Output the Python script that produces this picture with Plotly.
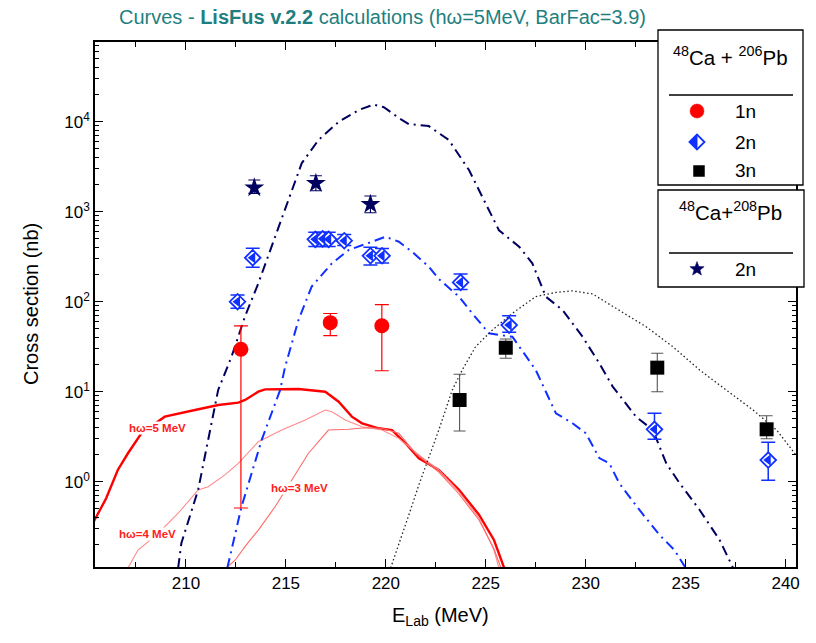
import plotly.graph_objects as go
import math

# ---------------- data ----------------
# 48Ca + 206Pb, 1n
n1_x = [212.75, 217.22, 219.80]
n1_y = [29.6, 58.5, 54.0]
n1_hi = [54.0, 74.0, 92.6]
n1_lo = [0.51, 41.9, 17.1]

# 48Ca + 206Pb, 2n
n2_x = [212.58, 213.34, 216.47, 216.84, 217.14, 217.92, 219.23, 219.81, 223.74, 226.17, 233.44, 239.13]
n2_y = [100, 308, 493, 500, 493, 476, 324, 324, 164, 55, 3.82, 1.74]
n2_hi = [119, 392, 590, 590, 590, 560, 402, 390, 203, 70, 5.75, 2.74]
n2_lo = [84.5, 241, 410, 410, 410, 420, 256, 270, 137, 45.7, 2.96, 1.04]

# 48Ca + 206Pb, 3n
n3_x = [223.69, 226.00, 233.58, 239.05]
n3_y = [8.09, 30.8, 18.5, 3.82]
n3_hi = [15.6, 38.5, 26.7, 5.41]
n3_lo = [3.66, 23.5, 10.0, 3.0]

# 48Ca + 208Pb, 2n
st_x = [213.42, 216.50, 219.23]
st_y = [1848, 2069, 1209]
st_hi = [2250, 2512, 1494]
st_lo = [1600, 1711, 975]

# LisFus 1n curves
c5_x = [205.34, 206.01, 206.59, 207.10, 207.77, 208.94, 210.45, 211.62, 212.62, 212.96, 213.62, 213.96,
        215.63, 216.97, 217.64, 218.30, 218.81, 219.64, 220.31, 220.98, 221.65, 222.65, 223.66, 224.66,
        225.41, 225.92]
c5_y = [0.345, 0.654, 1.35, 2.07, 3.45, 5.28, 6.26, 7.11, 7.55, 8.09, 10.0, 10.6,
        10.7, 10.0, 7.74, 5.28, 4.45, 3.92, 3.75, 2.67, 1.82, 1.35, 0.81, 0.43,
        0.225, 0.11]
c4_x = [207.10, 207.60, 208.61, 209.61, 210.61, 211.11, 211.95, 212.62, 213.62, 214.79, 215.97, 216.97,
        217.30, 217.97, 218.81, 219.81, 220.65, 221.65, 222.65, 223.66, 224.66, 225.41, 225.66]
c4_y = [0.11, 0.174, 0.267, 0.446, 0.81, 0.88, 1.19, 1.60, 2.78, 3.75, 4.85, 6.26,
        6.0, 4.85, 4.08, 3.75, 3.03, 1.98, 1.35, 0.77, 0.395, 0.174, 0.11]
c3_x = [212.02, 212.47, 212.95, 213.62, 214.46, 215.29, 216.13, 217.13, 218.14, 218.98, 219.81, 220.65,
        221.49, 222.65, 223.66, 224.66, 225.41, 225.76]
c3_y = [0.11, 0.135, 0.19, 0.29, 0.527, 1.04, 2.07, 3.75, 3.82, 3.98, 3.92, 3.45,
        2.07, 1.28, 0.73, 0.375, 0.18, 0.11]

# LisFus 2n curve, 48Ca + 208Pb
cn_x = [209.61, 209.77, 210.61, 211.28, 211.61, 212.28, 212.95, 213.62, 214.46, 215.13, 215.79, 216.63,
        217.63, 218.64, 219.40, 219.90, 220.65, 221.15, 222.15, 223.15, 224.16, 224.91, 225.66, 226.67,
        227.33, 228.00, 228.84, 229.84, 230.68, 231.35, 232.52, 233.36, 234.03, 234.70, 235.70, 236.70,
        237.37]
cn_y = [0.11, 0.207, 0.81, 4.46, 10.4, 24.5, 68.1, 160, 527, 1349, 3451, 6266,
        9930, 13490, 15500, 14500, 11000, 9400, 8950, 6270, 2904, 1343, 622, 408,
        267, 114, 80.9, 40.8, 20.7, 11.4, 5.27, 3.75, 1.60, 0.96, 0.485, 0.225,
        0.11]

# LisFus 2n curve, 48Ca + 206Pb
cb_x = [212.07, 212.28, 212.78, 213.79, 214.71, 214.96, 215.63, 216.29, 217.30, 218.14, 218.80, 219.31,
        219.98, 220.65, 221.31, 222.15, 222.65, 223.66, 224.32, 225.16, 226.33, 227.50, 228.51, 229.34,
        230.01, 230.68, 231.18, 231.68, 232.69, 233.69, 234.44, 235.00]
cb_y = [0.11, 0.174, 0.527, 2.91, 10.4, 18.9, 62.6, 147, 267, 375, 427, 464,
        527, 464, 359, 245, 179, 114, 74.3, 44.5, 40.8, 17.4, 5.75, 4.46,
        3.45, 1.83, 1.60, 0.96, 0.485, 0.256, 0.174, 0.11]

# LisFus 3n curve, 48Ca + 206Pb
ck_x = [220.24, 220.65, 221.15, 221.65, 222.15, 222.65, 223.32, 223.82, 224.49, 225.33, 226.33, 227.50,
        228.51, 229.34, 230.34, 231.68, 233.02, 234.36, 235.70, 237.04, 238.37, 239.55, 240.52]
ck_y = [0.11, 0.198, 0.426, 0.919, 1.88, 3.75, 10.4, 17.4, 31.6, 48.5, 74.3, 114,
        127, 132, 122, 80.9, 52.7, 31.6, 17.4, 10.4, 6.26, 3.75, 1.98]

y_tickvals = [1, 10, 100, 1000, 10000]
y_ticktext = ["10<sup>0</sup>", "10<sup>1</sup>", "10<sup>2</sup>", "10<sup>3</sup>", "10<sup>4</sup>"]
x_tickvals = [210, 215, 220, 225, 230, 235, 240]

# ---------------- styles / layout ----------------
FONT = "Liberation Sans, Arial, sans-serif"
RED = "#ff0000"
BLUE = "#1030ff"
NAVY = "#000060"
W, H = 816, 643
PL, PR, PT, PB = 95, 796, 42, 567


def fx(px):
    return (px - PL) / (PR - PL)


def fy(py):
    return (PB - py) / (PB - PT)


def plus(hi, v):
    return [a - b for a, b in zip(hi, v)]


def minus(lo, v):
    return [b - a for a, b in zip(lo, v)]


fig = go.Figure()

dashdot = "10px,5px,2px,5px"
fig.add_trace(go.Scatter(x=c5_x, y=c5_y, mode="lines", line=dict(color=RED, width=2.4), hoverinfo="skip"))
fig.add_trace(go.Scatter(x=c4_x, y=c4_y, mode="lines", line=dict(color="#ff8a8a", width=1.1), hoverinfo="skip"))
fig.add_trace(go.Scatter(x=c3_x, y=c3_y, mode="lines", line=dict(color="#ff6a6a", width=1.1), hoverinfo="skip"))
fig.add_trace(go.Scatter(x=cn_x, y=cn_y, mode="lines", line=dict(color=NAVY, width=2, dash=dashdot), hoverinfo="skip"))
fig.add_trace(go.Scatter(x=cb_x, y=cb_y, mode="lines", line=dict(color=BLUE, width=2, dash=dashdot), hoverinfo="skip"))
fig.add_trace(go.Scatter(x=ck_x, y=ck_y, mode="lines", line=dict(color="#222222", width=1.3, dash="1.5px,2.5px"), hoverinfo="skip"))

# points
fig.add_trace(go.Scatter(
    x=n1_x, y=n1_y, mode="markers",
    marker=dict(symbol="circle", size=15, color=RED),
    error_y=dict(type="data", array=plus(n1_hi, n1_y), arrayminus=minus(n1_lo, n1_y),
                 color=RED, thickness=1.2, width=7)))
fig.add_trace(go.Scatter(
    x=n2_x, y=n2_y, mode="markers",
    marker=dict(symbol="diamond", size=12, color="white", line=dict(color=BLUE, width=1.8)),
    error_y=dict(type="data", array=plus(n2_hi, n2_y), arrayminus=minus(n2_lo, n2_y),
                 color=BLUE, thickness=1.5, width=7)))
fig.add_trace(go.Scatter(
    x=n2_x, y=n2_y, mode="markers",
    marker=dict(symbol="triangle-left", size=10, color=BLUE, line=dict(width=0))))
fig.add_trace(go.Scatter(
    x=n3_x, y=n3_y, mode="markers",
    marker=dict(symbol="square", size=14, color="black"),
    error_y=dict(type="data", array=plus(n3_hi, n3_y), arrayminus=minus(n3_lo, n3_y),
                 color="#555555", thickness=1.1, width=6)))
fig.add_trace(go.Scatter(
    x=st_x, y=st_y, mode="markers",
    marker=dict(symbol="star", size=15, color=NAVY),
    error_y=dict(type="data", array=plus(st_hi, st_y), arrayminus=minus(st_lo, st_y),
                 color=NAVY, thickness=1.1, width=6)))

# ---------------- legend boxes (shapes) ----------------
shapes = []
box_line = dict(color="black", width=1.3)
shapes.append(dict(type="rect", xref="paper", yref="paper", x0=fx(658), x1=fx(803), y0=fy(185), y1=fy(30),
                   line=box_line, fillcolor="white", layer="above"))
shapes.append(dict(type="rect", xref="paper", yref="paper", x0=fx(658), x1=fx(804), y0=fy(287), y1=fy(190),
                   line=box_line, fillcolor="white", layer="above"))
for ly in (95, 253):
    shapes.append(dict(type="line", xref="paper", yref="paper", x0=fx(669), x1=fx(793), y0=fy(ly), y1=fy(ly),
                       line=dict(color="black", width=1.3), layer="above"))


def ppath(points):
    s = "M " + " L ".join(f"{fx(a):.5f},{fy(b):.5f}" for a, b in points) + " Z"
    return s


# circle
cx, cy, r = 697, 111, 7
shapes.append(dict(type="circle", xref="paper", yref="paper", x0=fx(cx - r), x1=fx(cx + r), y0=fy(cy + r),
                   y1=fy(cy - r), fillcolor=RED, line=dict(color=RED, width=0.5), layer="above"))
# half-filled diamond
cx, cy, r = 697, 142, 7.5
shapes.append(dict(type="path", xref="paper", yref="paper",
                   path=ppath([(cx - r, cy), (cx, cy - r), (cx, cy + r)]),
                   fillcolor=BLUE, line=dict(color=BLUE, width=1), layer="above"))
shapes.append(dict(type="path", xref="paper", yref="paper",
                   path=ppath([(cx - r, cy), (cx, cy - r), (cx + r, cy), (cx, cy + r)]),
                   fillcolor="rgba(0,0,0,0)", line=dict(color=BLUE, width=1.8), layer="above"))
# square
cx, cy, r = 699, 171, 5.5
shapes.append(dict(type="rect", xref="paper", yref="paper", x0=fx(cx - r), x1=fx(cx + r), y0=fy(cy + r),
                   y1=fy(cy - r), fillcolor="black", line=dict(color="black", width=0.5), layer="above"))
# star
cx, cy, R = 697, 269, 7.5
pts = []
for i in range(10):
    ang = -math.pi / 2 + i * math.pi / 5
    rr = R if i % 2 == 0 else R * 0.42
    pts.append((cx + rr * math.cos(ang), cy + rr * math.sin(ang)))
shapes.append(dict(type="path", xref="paper", yref="paper", path=ppath(pts),
                   fillcolor=NAVY, line=dict(color=NAVY, width=0.5), layer="above"))

# ---------------- annotations ----------------
ann = []


def txt(text, px, py, size=17, color="black", **kw):
    ann.append(dict(text=text, x=fx(px), y=fy(py), xref="paper", yref="paper", showarrow=False,
                    font=dict(family=FONT, size=size, color=color), xanchor="center", yanchor="middle", **kw))


txt("<sup>48</sup>Ca + <sup>206</sup>Pb", 730, 56, size=20.5)
txt("1n", 745, 111, size=19)
txt("2n", 745, 142, size=19)
txt("3n", 745, 171, size=19)
txt("<sup>48</sup>Ca+<sup>208</sup>Pb", 730, 211, size=20.5)
txt("2n", 745, 269, size=19)

txt("<b>hω=5 MeV</b>", 157, 428, size=11.5, color="#ff2020", bgcolor="white", borderpad=0)
txt("<b>hω=4 MeV</b>", 147, 534, size=11.5, color="#ff2020", bgcolor="white", borderpad=0)
txt("<b>hω=3 MeV</b>", 299, 488, size=11.5, color="#ff2020", bgcolor="white", borderpad=0)

txt("Cross section (nb)", 31, 304, size=20, textangle=-90)
txt("E<sub>Lab</sub> (MeV)", 440, 616, size=20)

fig.update_layout(
    width=W, height=H,
    margin=dict(l=PL, r=W - PR, t=PT, b=H - PB),
    paper_bgcolor="white", plot_bgcolor="white",
    showlegend=False,
    font=dict(family=FONT, size=17, color="black"),
    title=dict(text="Curves - <b>LisFus v.2.2</b> calculations (hω=5MeV, BarFac=3.9)",
               x=119 / W, xanchor="left", y=1 - 17 / H, yanchor="middle",
               font=dict(family=FONT, size=20, color="#1f7f80")),
    shapes=shapes,
    annotations=ann,
    xaxis=dict(range=[205.45, 240.52], showgrid=False, zeroline=False,
               showline=True, linecolor="black", linewidth=1.5, mirror="ticks",
               ticks="inside", ticklen=8, tickwidth=1.3, tickcolor="black",
               tickvals=x_tickvals, tickfont=dict(family=FONT, size=17),
               minor=dict(ticks="inside", ticklen=5, tickwidth=1.2, tickcolor="black",
                          tickvals=[207.5, 212.5, 217.5, 222.5, 227.5, 232.5, 237.5], showgrid=False)),
    yaxis=dict(type="log", range=[-0.948, 4.886], showgrid=False, zeroline=False,
               showline=True, linecolor="black", linewidth=1.5, mirror="ticks",
               ticks="inside", ticklen=8, tickwidth=1.3, tickcolor="black",
               tickvals=y_tickvals, ticktext=y_ticktext, tickfont=dict(family=FONT, size=17),
               minor=dict(ticks="inside", ticklen=4, tickwidth=1.1, tickcolor="black",
                          tickvals=[m * 10 ** k for k in range(-1, 5) for m in range(2, 10)],
                          showgrid=False)),
)

fig.write_html("out.html")
